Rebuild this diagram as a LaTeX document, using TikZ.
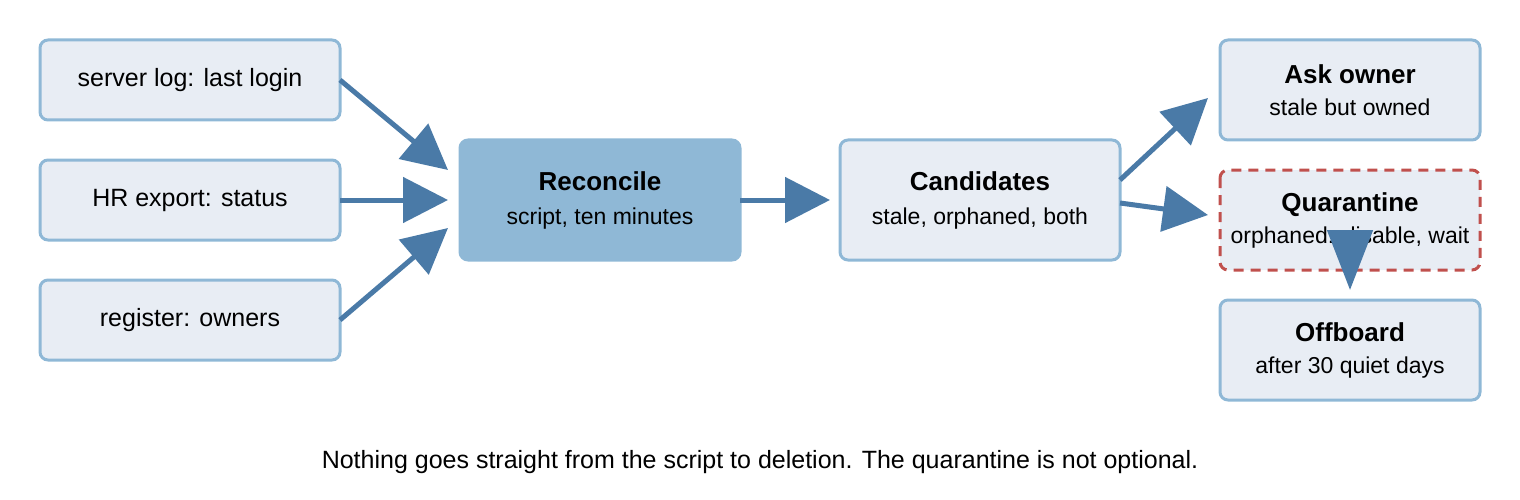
\documentclass[tikz,border=0pt]{standalone}
\usepackage{fontspec}
\setmainfont{Liberation Sans}
\usetikzlibrary{arrows.meta}
\definecolor{bfill}{HTML}{E8EDF4}
\definecolor{bline}{HTML}{8FB8D6}
\definecolor{arr}{HTML}{4A7AA7}
\definecolor{qred}{HTML}{C0504D}
\newcommand{\ttl}[1]{{\fontsize{26}{30}\selectfont\bfseries #1}}
\begin{document}
\begin{tikzpicture}[x=1pt,y=-1pt,
 box/.style={draw=bline,line width=3pt,fill=bfill,rounded corners=8pt},
 lbl/.style={font=\fontsize{25}{30}\selectfont},
 two/.style={align=center,font=\fontsize{23}{34}\selectfont},
 ar/.style={draw=arr,line width=5pt,-{Triangle[length=45pt,width=45pt]}}]
\useasboundingbox (0,0) rectangle (1520,500);
\draw[box] (40,40) rectangle (340,120) node[midway,lbl] (s1) {server log: last login};
\draw[box] (40,160) rectangle (340,240) node[midway,lbl] (s2) {HR export: status};
\draw[box] (40,280) rectangle (340,360) node[midway,lbl] (s3) {register: owners};
\draw[fill=bline,draw=bline,line width=3pt,rounded corners=8pt] (460,140) rectangle (740,260) node[midway,two] (rec) {\ttl{Reconcile}\\ script, ten minutes};
\draw[box] (840,140) rectangle (1120,260) node[midway,two] (cand) {\ttl{Candidates}\\ stale, orphaned, both};
\draw[box] (1220,40) rectangle (1480,140) node[midway,two,font=\fontsize{23}{32}\selectfont] (ask) {\ttl{Ask owner}\\ stale but owned};
\draw[box,draw=qred,dashed,dash pattern=on 10pt off 7pt] (1220,170) rectangle (1480,270) node[midway,two,font=\fontsize{23}{32}\selectfont] (q) {\ttl{Quarantine}\\ orphaned: disable, wait};
\draw[box] (1220,300) rectangle (1480,400) node[midway,two,font=\fontsize{23}{32}\selectfont] (off) {\ttl{Offboard}\\ after 30 quiet days};
\node[lbl] (cap) at (760,462) {Nothing goes straight from the script to deletion. The quarantine is not optional.};
\coordinate (a1s) at (340,80); \coordinate (a1e) at (448,170);
\coordinate (a2s) at (340,200); \coordinate (a2e) at (448,200);
\coordinate (a3s) at (340,320); \coordinate (a3e) at (448,228);
\coordinate (a4s) at (740,200); \coordinate (a4e) at (830,200);
\coordinate (a5s) at (1120,180); \coordinate (a5e) at (1208,98);
\coordinate (a6s) at (1120,203); \coordinate (a6e) at (1208,215);
\coordinate (a7s) at (1350,268); \coordinate (a7e) at (1350,290);
\draw[ar] (a1s) -- (a1e);
\draw[ar] (a2s) -- (a2e);
\draw[ar] (a3s) -- (a3e);
\draw[ar] (a4s) -- (a4e);
\draw[ar] (a5s) -- (a5e);
\draw[ar] (a6s) -- (a6e);
\draw[draw=arr,line width=5pt,-{Triangle[length=60pt,width=45pt]}] (a7s) -- (a7e);
\end{tikzpicture}
\end{document}
